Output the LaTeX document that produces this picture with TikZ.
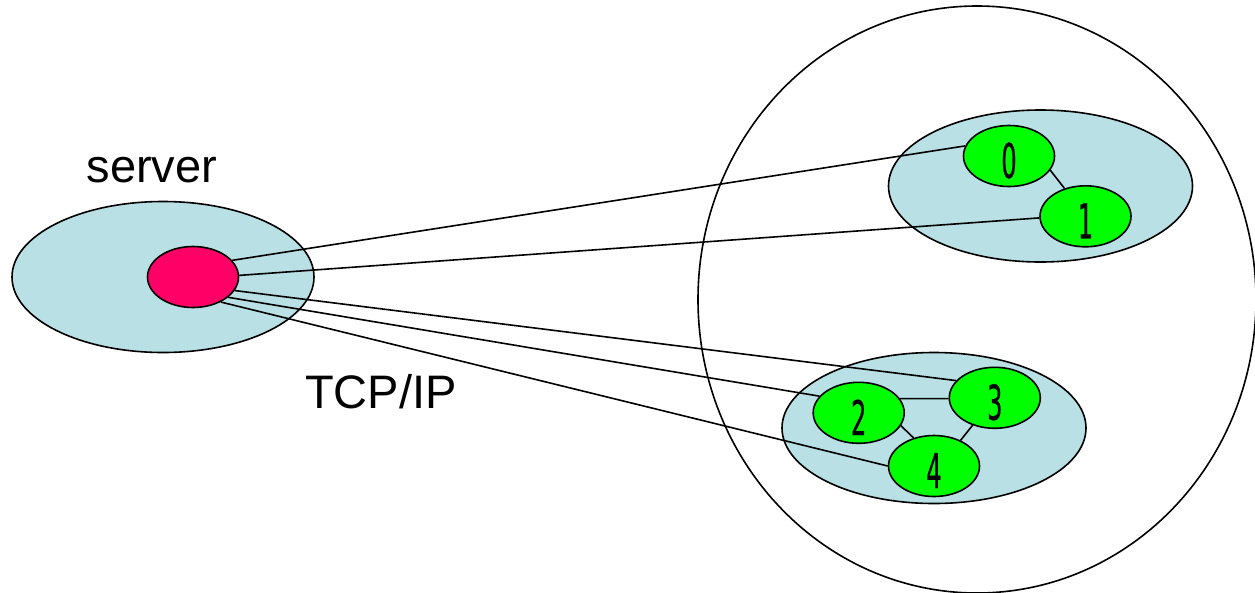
\documentclass[tikz,border=0pt]{standalone}
\usepackage{fontspec}
\setmainfont{Liberation Sans}
\newfontfamily\digitfont[FakeStretch=0.5,FakeBold=0.4]{DejaVu Sans}
\usetikzlibrary{shapes.geometric}
\definecolor{clusterblue}{RGB}{185,224,228}
\definecolor{nodegreen}{RGB}{0,255,0}
\definecolor{serverred}{RGB}{255,0,102}
\tikzset{
  outline/.style={draw=black, line width=1.6pt},
  cluster/.style={outline, ellipse, fill=clusterblue, inner sep=0pt},
  proc/.style={outline, ellipse, fill=nodegreen, inner sep=0pt, minimum width=91pt, minimum height=61pt},
  srv/.style={outline, ellipse, fill=serverred, inner sep=0pt, minimum width=91pt, minimum height=61pt},
  digit/.style={font=\digitfont\fontsize{48}{48}\selectfont, inner sep=0pt},
  lbl/.style={font=\fontsize{47}{50}\selectfont, inner sep=0pt, anchor=base},
  link/.style={draw=black, line width=1.6pt}
}
\begin{document}
\begin{tikzpicture}[x=1pt, y=-1pt]
\useasboundingbox (0,0) rectangle (1255,592);
% big circle
\node[outline, ellipse, minimum width=558pt, minimum height=587pt, inner sep=0pt] (world) at (977,299.5) {};
% clusters
\node[cluster, minimum width=304pt, minimum height=152pt] (clA) at (1040.5,186) {};
\node[cluster, minimum width=304pt, minimum height=151pt] (clB) at (934,428) {};
\node[cluster, minimum width=302pt, minimum height=151pt] (clS) at (163,277) {};
% processes
\node[proc] (n0) at (1009,156) {};
\node[proc] (n1) at (1085.5,216.3) {};
\node[proc] (n2) at (858.7,412.8) {};
\node[proc] (n3) at (994.8,397.8) {};
\node[proc] (n4) at (934,466) {};
\node[srv] (red) at (193,277) {};
% digits
\node[digit] (d0) at ([yshift=-4.5pt]n0.center) {0};
\node[digit] (d1) at ([yshift=-4.5pt]n1.center) {1};
\node[digit] (d2) at ([yshift=-4.5pt]n2.center) {2};
\node[digit] (d3) at ([yshift=-4.5pt]n3.center) {3};
\node[digit] (d4) at ([yshift=-4.5pt]n4.center) {4};
% labels
\node[lbl] (server) at (152,182) {server};
\node[lbl] (tcp) at (381,408) {TCP/IP};
% links from server
\draw[link] (red.23) -- (n0.167);
\draw[link] (red.2) -- (n1.182);
\draw[link] (red.-18) -- (n3.156);
\draw[link] (red.-30) -- (n2.157);
\draw[link] (red.-42) -- (n4.180);
% links inside clusters
\draw[link] (n0.-19) -- (n1.127);
\draw[link] (n2.19) -- (n3.181);
\draw[link] (n2.-17) -- (n4.126);
\draw[link] (n3.231) -- (n4.44);
\end{tikzpicture}
\end{document}
